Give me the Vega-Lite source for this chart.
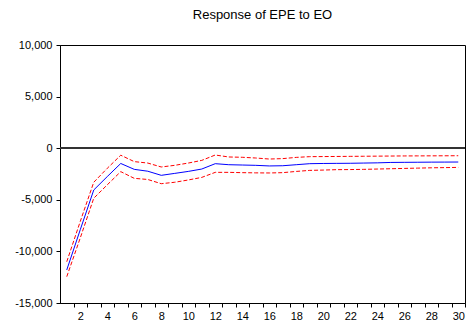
{
  "$schema": "https://vega.github.io/schema/vega-lite/v6.json",
  "autosize": "none",
  "padding": {"left": 60, "top": 45, "right": 3, "bottom": 22},
  "width": 405,
  "height": 258,
  "title": {"text": "Response of EPE to EO", "fontSize": 13, "font": "Liberation Sans", "fontWeight": "normal", "color": "#000", "offset": 17, "anchor": "middle"},
  "config": {
    "view": {"stroke": "#000", "strokeWidth": 1},
    "axis": {"labelFont": "Liberation Sans", "labelFontSize": 11, "labelColor": "#000", "domainColor": "#000", "tickColor": "#000", "grid": false, "title": null, "tickSize": 4}
  },
  "data": {"values": [
    {"period": 1, "response": -11800, "upper": -11000, "lower": -12450},
    {"period": 2, "response": -7900, "upper": -7100, "lower": -8700},
    {"period": 3, "response": -4050, "upper": -3300, "lower": -4850},
    {"period": 4, "response": -2750, "upper": -1950, "lower": -3550},
    {"period": 5, "response": -1480, "upper": -680, "lower": -2270},
    {"period": 6, "response": -2050, "upper": -1300, "lower": -2920},
    {"period": 7, "response": -2230, "upper": -1440, "lower": -3030},
    {"period": 8, "response": -2630, "upper": -1820, "lower": -3440},
    {"period": 9, "response": -2440, "upper": -1660, "lower": -3300},
    {"period": 10, "response": -2250, "upper": -1440, "lower": -3080},
    {"period": 11, "response": -2020, "upper": -1180, "lower": -2830},
    {"period": 12, "response": -1500, "upper": -660, "lower": -2340},
    {"period": 13, "response": -1600, "upper": -850, "lower": -2340},
    {"period": 14, "response": -1630, "upper": -880, "lower": -2370},
    {"period": 15, "response": -1660, "upper": -950, "lower": -2390},
    {"period": 16, "response": -1720, "upper": -1050, "lower": -2400},
    {"period": 17, "response": -1700, "upper": -1010, "lower": -2370},
    {"period": 18, "response": -1600, "upper": -890, "lower": -2250},
    {"period": 19, "response": -1500, "upper": -820, "lower": -2150},
    {"period": 20, "response": -1480, "upper": -810, "lower": -2120},
    {"period": 21, "response": -1470, "upper": -800, "lower": -2080},
    {"period": 22, "response": -1460, "upper": -790, "lower": -2070},
    {"period": 23, "response": -1440, "upper": -780, "lower": -2050},
    {"period": 24, "response": -1420, "upper": -770, "lower": -2020},
    {"period": 25, "response": -1380, "upper": -760, "lower": -1990},
    {"period": 26, "response": -1370, "upper": -750, "lower": -1960},
    {"period": 27, "response": -1360, "upper": -745, "lower": -1930},
    {"period": 28, "response": -1350, "upper": -740, "lower": -1900},
    {"period": 29, "response": -1345, "upper": -735, "lower": -1880},
    {"period": 30, "response": -1340, "upper": -730, "lower": -1860}
  ]},
  "encoding": {
    "x": {"field": "period", "type": "quantitative",
      "scale": {"domain": [0.5, 30.5], "nice": false, "zero": false},
      "axis": {"values": [1,2,3,4,5,6,7,8,9,10,11,12,13,14,15,16,17,18,19,20,21,22,23,24,25,26,27,28,29,30],
        "tickOffset": 6.75, "labelOffset": -6.75, "labelPadding": 3,
        "labelExpr": "datum.value % 2 == 0 ? datum.label : ''",
        "labelOverlap": false, "labelBound": false, "labelFlush": false}}
  },
  "layer": [
    {"mark": {"type": "rule", "color": "#333", "strokeWidth": 1.2},
     "encoding": {"x": null, "y": {"datum": 0}}},
    {"mark": {"type": "line", "color": "#ff0000", "strokeWidth": 1, "strokeDash": [4, 2]},
     "encoding": {"y": {"field": "upper", "type": "quantitative",
        "scale": {"domain": [-15000, 10000], "nice": false},
        "axis": {"values": [-15000, -10000, -5000, 0, 5000, 10000], "labelPadding": 4,
          "labelExpr": "replace(format(datum.value, ','), '\u2212', '-')"}}}},
    {"mark": {"type": "line", "color": "#ff0000", "strokeWidth": 1, "strokeDash": [4, 2]},
     "encoding": {"y": {"field": "lower", "type": "quantitative"}}},
    {"mark": {"type": "line", "color": "#0000ff", "strokeWidth": 1},
     "encoding": {"y": {"field": "response", "type": "quantitative"}}}
  ]
}
